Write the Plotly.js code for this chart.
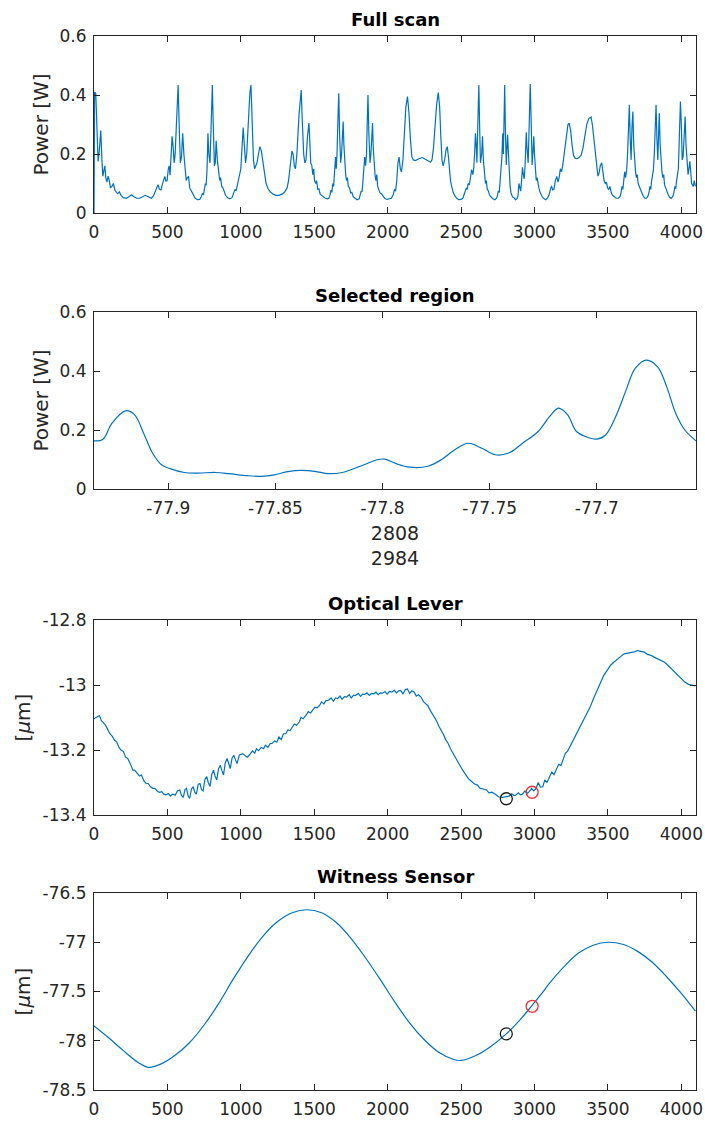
<!DOCTYPE html>
<html>
<head>
<meta charset="utf-8">
<script src="https://cdn.plot.ly/plotly-3.0.1.min.js"></script>
<style>html,body{margin:0;padding:0;background:#fff;}#chart{width:705px;height:1122px;}</style>
</head>
<body>
<div id="chart"></div>
<script>
// ---------- Full scan (scan index vs power) ----------
const scanIdx = [0,4,12,20,28,36,46,54,60,68,74,80,88,96,104,112,122,132,142,152,162,172,184,200,220,240,255,270,290,310,330,350,370,390,405,418,428,436,446,456,466,474,482,490,498,506,512,518,524,532,538,546,552,560,568,573,580,588,596,604,612,620,628,636,644,652,660,668,678,690,705,720,730,738,746,752,758,764,770,776,782,790,798,806,812,820,826,832,840,848,856,862,870,878,886,896,910,925,940,950,960,968,976,984,992,1000,1008,1016,1024,1032,1040,1050,1062,1069,1076,1086,1094,1102,1110,1120,1130,1140,1150,1160,1172,1186,1200,1220,1240,1260,1280,1300,1315,1325,1335,1348,1356,1364,1372,1382,1396,1404,1411,1418,1428,1436,1444,1454,1464,1470,1476,1484,1490,1496,1502,1510,1516,1524,1532,1540,1550,1562,1575,1590,1600,1608,1614,1620,1626,1632,1638,1645,1650,1655,1662,1667,1673,1680,1686,1692,1697,1702,1708,1714,1720,1726,1732,1740,1748,1756,1766,1778,1792,1806,1814,1820,1826,1832,1838,1844,1850,1856,1862,1866,1872,1880,1886,1893,1897,1902,1908,1914,1920,1926,1932,1940,1948,1958,1968,1980,1995,2010,2025,2038,2046,2054,2062,2070,2078,2086,2094,2104,2114,2124,2135,2145,2155,2165,2175,2190,2205,2220,2235,2250,2265,2280,2292,2302,2312,2322,2334,2345,2354,2362,2370,2378,2388,2398,2406,2414,2420,2428,2436,2446,2458,2470,2484,2500,2512,2520,2528,2536,2542,2548,2556,2564,2572,2580,2586,2592,2598,2604,2608,2614,2621,2627,2632,2640,2646,2652,2660,2666,2672,2678,2686,2694,2704,2716,2730,2742,2748,2754,2760,2764,2770,2774,2778,2784,2788,2792,2797,2802,2808,2812,2817,2822,2828,2834,2840,2850,2860,2870,2880,2888,2894,2900,2906,2912,2918,2924,2930,2936,2944,2948,2953,2957,2962,2967,2971,2976,2980,2984,2990,2995,3000,3006,3012,3018,3024,3030,3038,3046,3056,3066,3077,3088,3098,3106,3116,3124,3132,3142,3152,3160,3168,3176,3184,3192,3204,3216,3228,3236,3246,3256,3266,3276,3290,3304,3318,3330,3342,3356,3370,3385,3394,3404,3414,3424,3432,3440,3448,3458,3466,3474,3482,3490,3498,3506,3514,3522,3532,3542,3556,3570,3582,3590,3596,3602,3608,3614,3620,3628,3634,3640,3646,3652,3658,3664,3670,3676,3682,3688,3694,3700,3706,3714,3722,3730,3740,3752,3762,3772,3780,3786,3792,3798,3804,3810,3816,3822,3828,3834,3840,3846,3850,3856,3862,3868,3874,3880,3886,3894,3902,3912,3922,3932,3942,3950,3956,3962,3968,3974,3980,3986,3994,4000,4006,4012,4020,4026,4032,4040,4046,4052,4058,4064,4070,4076,4082,4088,4092,4096];
const scanPower = [0.000,0.410,0.405,0.270,0.175,0.210,0.280,0.180,0.125,0.145,0.160,0.120,0.105,0.125,0.110,0.085,0.090,0.100,0.078,0.070,0.066,0.072,0.060,0.052,0.050,0.056,0.062,0.056,0.050,0.050,0.055,0.060,0.055,0.050,0.058,0.075,0.092,0.096,0.080,0.078,0.098,0.112,0.124,0.108,0.110,0.150,0.160,0.128,0.175,0.260,0.230,0.170,0.195,0.300,0.410,0.434,0.300,0.170,0.190,0.270,0.200,0.140,0.110,0.120,0.124,0.085,0.079,0.070,0.060,0.050,0.045,0.046,0.055,0.066,0.062,0.090,0.100,0.094,0.150,0.270,0.200,0.170,0.300,0.434,0.300,0.160,0.170,0.245,0.180,0.130,0.110,0.120,0.090,0.085,0.070,0.060,0.052,0.048,0.052,0.066,0.080,0.075,0.095,0.110,0.124,0.150,0.220,0.290,0.230,0.170,0.200,0.300,0.410,0.434,0.330,0.180,0.150,0.160,0.170,0.200,0.225,0.210,0.170,0.130,0.100,0.082,0.072,0.064,0.060,0.060,0.064,0.072,0.085,0.110,0.150,0.210,0.200,0.160,0.150,0.200,0.330,0.390,0.417,0.320,0.200,0.170,0.180,0.260,0.305,0.240,0.170,0.160,0.130,0.150,0.110,0.100,0.110,0.080,0.082,0.064,0.060,0.052,0.050,0.048,0.050,0.062,0.078,0.070,0.100,0.090,0.150,0.190,0.150,0.200,0.330,0.406,0.260,0.170,0.200,0.290,0.310,0.230,0.160,0.130,0.110,0.120,0.090,0.085,0.068,0.070,0.055,0.050,0.045,0.048,0.060,0.075,0.072,0.110,0.150,0.190,0.160,0.200,0.330,0.400,0.270,0.170,0.200,0.290,0.305,0.220,0.160,0.130,0.110,0.130,0.090,0.080,0.068,0.065,0.056,0.050,0.046,0.048,0.050,0.062,0.080,0.074,0.110,0.170,0.190,0.150,0.140,0.180,0.260,0.360,0.395,0.340,0.250,0.190,0.180,0.178,0.182,0.186,0.188,0.184,0.180,0.176,0.172,0.180,0.220,0.290,0.370,0.408,0.360,0.260,0.180,0.160,0.180,0.215,0.225,0.190,0.150,0.110,0.090,0.070,0.058,0.050,0.045,0.046,0.050,0.062,0.075,0.085,0.080,0.100,0.095,0.120,0.147,0.130,0.150,0.200,0.270,0.220,0.170,0.300,0.434,0.280,0.170,0.200,0.260,0.180,0.130,0.100,0.110,0.080,0.075,0.060,0.055,0.048,0.045,0.050,0.060,0.075,0.070,0.100,0.120,0.150,0.190,0.270,0.200,0.300,0.434,0.280,0.163,0.215,0.265,0.210,0.140,0.090,0.068,0.055,0.052,0.045,0.048,0.058,0.100,0.080,0.074,0.110,0.155,0.130,0.116,0.160,0.274,0.230,0.178,0.170,0.260,0.380,0.437,0.340,0.220,0.163,0.210,0.260,0.200,0.140,0.110,0.120,0.090,0.085,0.070,0.060,0.052,0.048,0.045,0.050,0.060,0.075,0.092,0.078,0.080,0.110,0.124,0.105,0.120,0.150,0.140,0.160,0.210,0.270,0.300,0.305,0.280,0.230,0.195,0.186,0.184,0.188,0.196,0.220,0.260,0.300,0.320,0.325,0.300,0.250,0.190,0.150,0.125,0.135,0.160,0.170,0.140,0.110,0.100,0.105,0.085,0.080,0.090,0.070,0.060,0.055,0.050,0.050,0.055,0.070,0.090,0.080,0.110,0.140,0.120,0.147,0.200,0.300,0.367,0.250,0.180,0.290,0.344,0.230,0.160,0.140,0.120,0.130,0.100,0.090,0.075,0.070,0.058,0.050,0.050,0.056,0.070,0.090,0.080,0.110,0.130,0.147,0.200,0.300,0.367,0.250,0.180,0.280,0.338,0.230,0.160,0.140,0.120,0.130,0.095,0.085,0.070,0.060,0.052,0.050,0.056,0.070,0.090,0.082,0.110,0.140,0.150,0.250,0.378,0.300,0.180,0.190,0.300,0.327,0.230,0.150,0.130,0.150,0.175,0.140,0.100,0.095,0.090,0.110,0.100,0.090];

// ---------- Selected region (witness position vs power) ----------
const selPos = [-77.9347,-77.9305,-77.9263,-77.9200,-77.9158,-77.9116,-77.9074,-77.9032,-77.8989,-77.8926,-77.8863,-77.8779,-77.8716,-77.8632,-77.8568,-77.8505,-77.8442,-77.8379,-77.8316,-77.8253,-77.8189,-77.8105,-77.8021,-77.7989,-77.7937,-77.7874,-77.7789,-77.7726,-77.7663,-77.7600,-77.7537,-77.7474,-77.7411,-77.7347,-77.7274,-77.7221,-77.7179,-77.7137,-77.7095,-77.7053,-77.7000,-77.6958,-77.6905,-77.6863,-77.6821,-77.6768,-77.6716,-77.6674,-77.6632,-77.6589,-77.6537];
const selPower = [0.163,0.169,0.223,0.265,0.252,0.190,0.122,0.082,0.068,0.056,0.054,0.056,0.052,0.045,0.043,0.048,0.059,0.063,0.060,0.052,0.056,0.077,0.100,0.101,0.086,0.074,0.077,0.099,0.133,0.155,0.138,0.116,0.122,0.155,0.195,0.245,0.274,0.252,0.195,0.178,0.169,0.184,0.257,0.336,0.409,0.437,0.414,0.347,0.257,0.200,0.163];
const selTicks = [-77.9,-77.85,-77.8,-77.75,-77.7];
const selTickText = ["-77.9","-77.85","-77.8","-77.75","-77.7"];
const selStartIdx = 2808, selEndIdx = 2984;

// ---------- Optical lever ----------
const olIdx = [0,20,37,50,61,80,95,108,125,140,154,170,184,200,215,230,250,265,276,295,310,323,340,355,369,385,400,415,430,445,461,475,490,507,520,535,553,568,584,596,608,620,630,640,651,664,676,686,697,710,722,732,743,756,768,778,790,802,814,824,836,848,860,870,882,894,906,916,928,940,952,962,974,990,1014,1030,1045,1060,1080,1095,1106,1120,1140,1155,1167,1185,1200,1213,1230,1245,1260,1275,1290,1306,1320,1335,1352,1365,1380,1398,1410,1425,1444,1460,1475,1490,1505,1520,1536,1550,1565,1580,1597,1615,1630,1645,1659,1675,1690,1705,1720,1738,1752,1767,1782,1800,1815,1830,1843,1860,1875,1890,1905,1920,1935,1950,1966,1982,1996,2012,2028,2045,2060,2075,2089,2105,2120,2135,2150,2165,2181,2195,2210,2227,2245,2260,2273,2290,2305,2319,2335,2350,2365,2380,2395,2412,2428,2442,2458,2475,2490,2504,2520,2535,2550,2570,2590,2611,2630,2650,2673,2690,2710,2734,2755,2780,2800,2826,2845,2860,2872,2890,2905,2918,2935,2950,2964,2980,2995,3011,3025,3040,3057,3070,3085,3103,3118,3133,3149,3165,3180,3195,3210,3225,3241,3260,3275,3287,3310,3333,3355,3379,3400,3425,3450,3471,3495,3517,3540,3564,3588,3610,3635,3656,3680,3702,3725,3748,3770,3794,3818,3840,3862,3886,3910,3932,3955,3978,4000,4024,4048,4070,4096];
const olPos = [-13.104,-13.098,-13.094,-13.110,-13.114,-13.125,-13.140,-13.150,-13.158,-13.170,-13.175,-13.192,-13.200,-13.205,-13.222,-13.226,-13.245,-13.262,-13.262,-13.272,-13.280,-13.277,-13.295,-13.303,-13.303,-13.313,-13.318,-13.318,-13.326,-13.330,-13.328,-13.336,-13.338,-13.334,-13.342,-13.336,-13.339,-13.326,-13.323,-13.340,-13.346,-13.322,-13.318,-13.340,-13.349,-13.320,-13.313,-13.330,-13.336,-13.305,-13.303,-13.322,-13.326,-13.290,-13.282,-13.300,-13.312,-13.275,-13.262,-13.280,-13.292,-13.258,-13.247,-13.262,-13.277,-13.240,-13.226,-13.240,-13.257,-13.225,-13.216,-13.228,-13.242,-13.215,-13.211,-13.218,-13.222,-13.214,-13.203,-13.210,-13.196,-13.202,-13.192,-13.196,-13.185,-13.192,-13.180,-13.180,-13.172,-13.176,-13.160,-13.168,-13.150,-13.150,-13.138,-13.140,-13.129,-13.120,-13.124,-13.114,-13.100,-13.104,-13.093,-13.082,-13.086,-13.078,-13.068,-13.070,-13.063,-13.052,-13.058,-13.048,-13.047,-13.040,-13.050,-13.040,-13.042,-13.034,-13.044,-13.036,-13.037,-13.030,-13.040,-13.032,-13.032,-13.026,-13.035,-13.028,-13.029,-13.024,-13.032,-13.026,-13.027,-13.022,-13.030,-13.024,-13.025,-13.020,-13.028,-13.020,-13.022,-13.016,-13.024,-13.018,-13.017,-13.028,-13.014,-13.012,-13.026,-13.018,-13.022,-13.034,-13.030,-13.037,-13.052,-13.058,-13.063,-13.078,-13.090,-13.098,-13.112,-13.128,-13.139,-13.152,-13.168,-13.180,-13.196,-13.208,-13.221,-13.236,-13.248,-13.257,-13.268,-13.280,-13.288,-13.296,-13.304,-13.308,-13.318,-13.320,-13.323,-13.332,-13.330,-13.336,-13.344,-13.346,-13.344,-13.342,-13.335,-13.340,-13.339,-13.332,-13.338,-13.336,-13.326,-13.334,-13.328,-13.318,-13.326,-13.318,-13.300,-13.314,-13.313,-13.292,-13.300,-13.282,-13.268,-13.276,-13.262,-13.244,-13.248,-13.226,-13.210,-13.204,-13.190,-13.170,-13.160,-13.150,-13.128,-13.109,-13.088,-13.068,-13.044,-13.017,-12.992,-12.971,-12.955,-12.940,-12.930,-12.920,-12.912,-12.904,-12.902,-12.899,-12.898,-12.894,-12.897,-12.899,-12.906,-12.909,-12.915,-12.920,-12.926,-12.930,-12.940,-12.950,-12.960,-12.971,-12.982,-12.991,-12.998,-13.001,-13.003];

// ---------- Witness sensor ----------
const wsIdx = [0,100,200,300,370,450,550,650,750,850,950,1050,1150,1250,1350,1450,1550,1650,1750,1850,1950,2050,2150,2250,2350,2450,2500,2600,2700,2808,2900,2984,3050,3100,3200,3300,3400,3500,3600,3700,3800,3900,4000,4096];
const wsPos = [-77.85,-77.97,-78.10,-78.22,-78.27,-78.24,-78.15,-78.02,-77.84,-77.62,-77.37,-77.14,-76.94,-76.79,-76.70,-76.67,-76.70,-76.80,-76.96,-77.16,-77.38,-77.61,-77.82,-77.99,-78.12,-78.19,-78.20,-78.15,-78.06,-77.93,-77.79,-77.64,-77.52,-77.42,-77.25,-77.11,-77.03,-77.00,-77.02,-77.09,-77.20,-77.35,-77.52,-77.70];

// ---------- Selected points ----------
const markIdx = [2808, 2984];
const markOL = [-13.350, -13.330];
const markWS = [-77.93, -77.65];
const markColors = ["#1a1a1a", "#e8313a"];

const idxTicks = [0,500,1000,1500,2000,2500,3000,3500,4000];
const titles = ["Full scan", "Selected region", "Optical Lever", "Witness Sensor"];

const BLUE = "#0072BD";
const AX = "#262626";
const W = 705, H = 1122;
const px2x = p => p / W;
const px2y = p => 1 - p / H;

const traces = [
  {x: scanIdx, y: scanPower, type: "scatter", mode: "lines", line: {color: BLUE, width: 1.2}, xaxis: "x", yaxis: "y", hoverinfo: "skip"},
  {x: selPos, y: selPower, type: "scatter", mode: "lines", line: {color: BLUE, width: 1.2, shape: "spline"}, xaxis: "x2", yaxis: "y2", hoverinfo: "skip"},
  {x: olIdx, y: olPos, type: "scatter", mode: "lines", line: {color: BLUE, width: 1.2}, xaxis: "x3", yaxis: "y3", hoverinfo: "skip"},
  {x: wsIdx, y: wsPos, type: "scatter", mode: "lines", line: {color: BLUE, width: 1.2, shape: "spline"}, xaxis: "x4", yaxis: "y4", hoverinfo: "skip"}
];
markIdx.forEach((mi, k) => {
  traces.push({x: [mi], y: [markOL[k]], type: "scatter", mode: "markers", marker: {symbol: "circle-open", size: 12, color: markColors[k], line: {width: 1.3}}, xaxis: "x3", yaxis: "y3"});
  traces.push({x: [mi], y: [markWS[k]], type: "scatter", mode: "markers", marker: {symbol: "circle-open", size: 12, color: markColors[k], line: {width: 1.3}}, xaxis: "x4", yaxis: "y4"});
});

const tickFont = {family: "DejaVu Sans, sans-serif", size: 17, color: AX};
const titleFont = {family: "DejaVu Sans, sans-serif", size: 20, color: AX};
const XL = 94, XR = 696;
function xax(anchor, extra) {
  return Object.assign({
    domain: [px2x(XL), px2x(XR)], anchor: anchor,
    showline: true, mirror: "ticks", linecolor: AX, linewidth: 1,
    ticks: "inside", ticklen: 6, tickcolor: AX, tickwidth: 1,
    showgrid: false, zeroline: false, tickfont: tickFont, fixedrange: true,
    ticklabelstandoff: 4
  }, extra);
}
function yax(top, bottom, anchor, extra) {
  return Object.assign({
    domain: [px2y(bottom), px2y(top)], anchor: anchor,
    showline: true, mirror: "ticks", linecolor: AX, linewidth: 1,
    ticks: "inside", ticklen: 6, tickcolor: AX, tickwidth: 1,
    showgrid: false, zeroline: false, tickfont: tickFont, fixedrange: true,
    ticklabelstandoff: 3
  }, extra);
}

const panels = [[36, 213], [312, 489], [620, 815], [893, 1090]];

const layout = {
  width: W, height: H,
  margin: {l: 0, r: 0, t: 0, b: 0},
  paper_bgcolor: "#ffffff", plot_bgcolor: "#ffffff",
  showlegend: false,
  font: {family: "DejaVu Sans, sans-serif", color: AX},
  xaxis: xax("y", {range: [0, 4100], tickvals: idxTicks, ticktext: idxTicks.map(String)}),
  yaxis: yax(panels[0][0], panels[0][1], "x", {range: [0, 0.6], tickvals: [0, 0.2, 0.4, 0.6], ticktext: ["0", "0.2", "0.4", "0.6"], title: {text: "Power [W]", font: titleFont, standoff: 5}}),
  xaxis2: xax("y2", {range: [selPos[0], selPos[selPos.length - 1]], tickvals: selTicks, ticktext: selTickText, title: {text: selStartIdx + "<br>" + selEndIdx, font: {family: "DejaVu Sans, sans-serif", size: 19, color: AX}, standoff: 9}}),
  yaxis2: yax(panels[1][0], panels[1][1], "x2", {range: [0, 0.6], tickvals: [0, 0.2, 0.4, 0.6], ticktext: ["0", "0.2", "0.4", "0.6"], title: {text: "Power [W]", font: titleFont, standoff: 5}}),
  xaxis3: xax("y3", {range: [0, 4100], tickvals: idxTicks, ticktext: idxTicks.map(String)}),
  yaxis3: yax(panels[2][0], panels[2][1], "x3", {range: [-13.4, -12.8], tickvals: [-13.4, -13.2, -13, -12.8], ticktext: ["-13.4", "-13.2", "-13", "-12.8"], title: {text: "[<i>μ</i>m]", font: titleFont, standoff: 6}}),
  xaxis4: xax("y4", {range: [0, 4100], tickvals: idxTicks, ticktext: idxTicks.map(String)}),
  yaxis4: yax(panels[3][0], panels[3][1], "x4", {range: [-78.5, -76.5], tickvals: [-78.5, -78, -77.5, -77, -76.5], ticktext: ["-78.5", "-78", "-77.5", "-77", "-76.5"], title: {text: "[<i>μ</i>m]", font: titleFont, standoff: 6}}),
  annotations: titles.map((t, k) => ({
    text: "<b>" + t + "</b>", xref: "paper", yref: "paper",
    x: px2x((XL + XR) / 2), y: px2y(panels[k][0] - 4),
    xanchor: "center", yanchor: "bottom", showarrow: false,
    font: {family: "DejaVu Sans, sans-serif", size: 18, color: "#000"}
  }))
};

Plotly.newPlot("chart", traces, layout, {displayModeBar: false, staticPlot: true});
</script>
</body>
</html>
